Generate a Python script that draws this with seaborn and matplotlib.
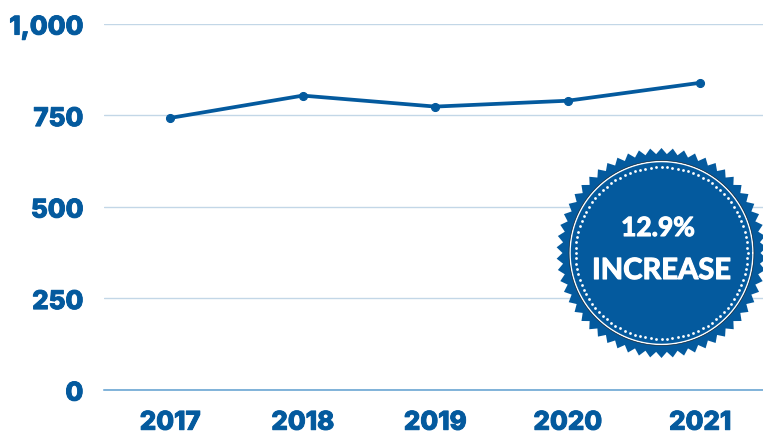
#!/usr/bin/env python3
# Yearly line chart with a round "increase" seal on top
import numpy as np
import pandas as pd
import matplotlib
matplotlib.use("Agg")
import matplotlib.pyplot as plt
import matplotlib.patheffects as pe
from matplotlib.transforms import ScaledTranslation
import seaborn as sns

years = ["2017", "2018", "2019", "2020", "2021"]
values = [742, 803, 773, 789, 838]
y_ticks = [0, 250, 500, 750, 1000]
y_labels = ["0", "250", "500", "750", "1,000"]
badge_lines = ["12.9%", "INCREASE"]

BLUE = "#045a9e"
GRID = "#c3d7e7"
BASE = "#5f9fd0"

sns.set_theme(style="white")
plt.rcParams["font.family"] = ["Inter", "DejaVu Sans"]

W, H = 763, 435
fig = plt.figure(figsize=(W / 100, H / 100), dpi=100)
ax = fig.add_axes([104 / W, (H - 390.5) / H, (W - 104) / W, 366 / H])

data = pd.DataFrame({"year": years, "value": values})
sns.lineplot(data=data, x="year", y="value", ax=ax, color=BLUE, linewidth=2.7,
             marker="o", markersize=5.8, markeredgecolor=BLUE, zorder=3)

ax.set_xlim(-0.5, 4.474)
ax.set_ylim(0, 1000)
ax.set_yticks(y_ticks)
ax.set_yticklabels(y_labels)
ax.set_xlabel("")
ax.set_ylabel("")
ax.yaxis.grid(True, color=GRID, linewidth=1)
ax.xaxis.grid(False)
ax.set_axisbelow(True)
sns.despine(ax=ax, left=True, top=True, right=True)
ax.spines["bottom"].set_color(BASE)
ax.spines["bottom"].set_linewidth(1.1)
ax.tick_params(axis="both", length=0, labelcolor=BLUE, labelsize=18.6)
ax.tick_params(axis="y", pad=15)
ax.tick_params(axis="x", pad=16)
for lab in ax.get_xticklabels() + ax.get_yticklabels():
    lab.set_fontweight("heavy")
    lab.set_path_effects([pe.withStroke(linewidth=0.7, foreground=BLUE)])
# y labels sit a little under their grid lines
shift = ScaledTranslation(0, -1.5 / 72, fig.dpi_scale_trans)
for lab in ax.get_yticklabels():
    lab.set_transform(lab.get_transform() + shift)

# seal, drawn in pixel coordinates on a full figure overlay
ov = fig.add_axes([0, 0, 1, 1], zorder=5)
ov.set_xlim(0, W)
ov.set_ylim(H, 0)
ov.axis("off")
cx, cy = 661.5, 254
n_teeth = 58
ang = np.linspace(0, 2 * np.pi, 2 * n_teeth, endpoint=False) - np.pi / 2
rad = np.where(np.arange(2 * n_teeth) % 2 == 0, 105, 99)
ov.fill(cx + rad * np.cos(ang), cy + rad * np.sin(ang), color=BLUE, lw=0)
t = np.linspace(0, 2 * np.pi, 361)
ov.plot(cx + 91.5 * np.cos(t), cy + 91.5 * np.sin(t), color="white", lw=1.1)
ov.plot(cx + 92.5 * np.cos(t), cy + 92.5 * np.sin(t), color="#22303c", lw=0.5)
dots = np.linspace(0, 2 * np.pi, 100, endpoint=False)
ov.scatter(cx + 86 * np.cos(dots), cy + 86 * np.sin(dots), s=4, color="white", lw=0)
for txt, x, y, size in zip(badge_lines, [cx - 3.5, cx], [229, 272], [19, 21]):
    ov.text(x, y, txt, color="white", fontsize=size, fontweight="bold",
            ha="center", va="center", family=["Lato", "DejaVu Sans"],
            path_effects=[pe.withStroke(linewidth=0.8, foreground="white")])

fig.savefig("out.png", dpi=100)
